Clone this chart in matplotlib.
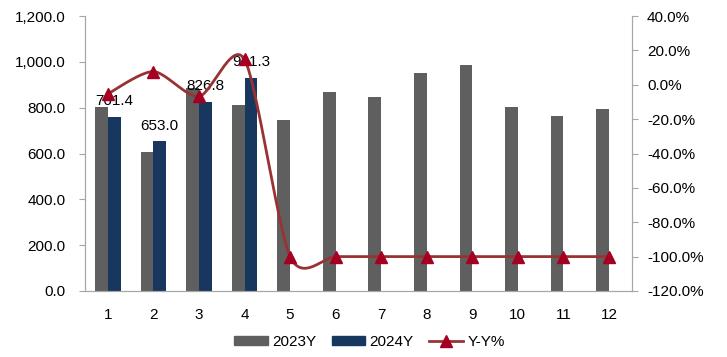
import numpy as np
import matplotlib
matplotlib.use("Agg")
import matplotlib.pyplot as plt
from matplotlib.ticker import FuncFormatter
from matplotlib.lines import Line2D
from matplotlib.patches import Patch

months = [1, 2, 3, 4, 5, 6, 7, 8, 9, 10, 11, 12]
sales_2023 = [804, 606, 887, 811, 747, 870, 848, 952, 987, 804, 765, 795]
sales_2024 = [761.4, 653.0, 826.8, 931.3]
yoy = [-5.3, 7.7, -6.8, 14.8, -100, -100, -100, -100, -100, -100, -100, -100]

gray = '#5f5f5f'
navy = '#17375e'
line_red = '#993333'
mark_red = '#a50021'

plt.rcParams['font.family'] = ['Liberation Sans', 'DejaVu Sans']

fig = plt.figure(figsize=(7.27, 3.57), dpi=100)
ax = fig.add_axes([0.117, 0.185, 0.752, 0.77])
ax2 = ax.twinx()

x = np.array(months, dtype=float)
w = 0.28
ax.bar(x - w / 2, sales_2023, width=w, color=gray, zorder=2)
x24 = x[:len(sales_2024)]
ax.bar(x24 + w / 2, sales_2024, width=w, color=navy, zorder=2)
for xi, v in zip(x24, sales_2024):
    ax.annotate(f'{v:.1f}', (xi + w / 2, v), xytext=(0, 6), textcoords='offset points',
                ha='center', va='bottom', fontsize=11, color='black', zorder=5)

# smooth line (excel style), markers on the real points
y = np.array(yoy, dtype=float)
px = np.concatenate([[x[0]], x, [x[-1]]])
py = np.concatenate([[y[0]], y, [y[-1]]])
k = 1 / 7.5
sx, sy = [], []
t = np.linspace(0, 1, 30)
for i in range(1, len(px) - 2):
    p0 = np.array([px[i], py[i]])
    p3 = np.array([px[i + 1], py[i + 1]])
    p1 = p0 + (np.array([px[i + 1], py[i + 1]]) - np.array([px[i - 1], py[i - 1]])) * k
    p2 = p3 - (np.array([px[i + 2], py[i + 2]]) - np.array([px[i], py[i]])) * k
    b = ((1 - t) ** 3)[:, None] * p0 + (3 * (1 - t) ** 2 * t)[:, None] * p1 \
        + (3 * (1 - t) * t ** 2)[:, None] * p2 + (t ** 3)[:, None] * p3
    sx.extend(b[:, 0])
    sy.extend(b[:, 1])
ax2.plot(sx, sy, color=line_red, lw=2.0, zorder=3)
ax2.plot(x, y, ls='none', marker='^', ms=9, color=mark_red, zorder=4)

ax.set_xlim(0.5, 12.5)
ax.set_ylim(0, 1200)
ax.set_yticks(np.arange(0, 1201, 200))
ax.yaxis.set_major_formatter(FuncFormatter(lambda v, p: f'{v:,.1f}'))
ax2.set_ylim(-120, 40)
ax2.set_yticks(np.arange(-120, 41, 20))
ax2.yaxis.set_major_formatter(FuncFormatter(lambda v, p: f'{v:.1f}%'))
ax.set_xticks(months)
ax.set_xticklabels([str(m) for m in months])

for a in (ax, ax2):
    a.spines['top'].set_visible(False)
    for s in ('left', 'right', 'bottom'):
        a.spines[s].set_color('#a6a6a6')
ax.set_zorder(ax2.get_zorder() - 1)
ax.patch.set_visible(True)
ax2.patch.set_visible(False)
ax.tick_params(axis='y', length=4, pad=10, color='#a6a6a6', labelsize=11)
ax2.tick_params(axis='y', length=4, pad=7, color='#a6a6a6', labelsize=11)
ax.tick_params(axis='x', length=0, pad=12, labelsize=11)

handles = [Patch(color=gray), Patch(color=navy),
           Line2D([], [], color=line_red, lw=2.0, marker='^', ms=9, mfc=mark_red, mec=mark_red)]
fig.legend(handles, ['2023Y', '2024Y', 'Y-Y%'], loc='center', bbox_to_anchor=(0.508, 0.042),
           ncol=3, frameon=False, fontsize=11, handlelength=2.2, handleheight=0.6,
           columnspacing=1.0, handletextpad=0.3)

fig.savefig('out.png', dpi=100)
